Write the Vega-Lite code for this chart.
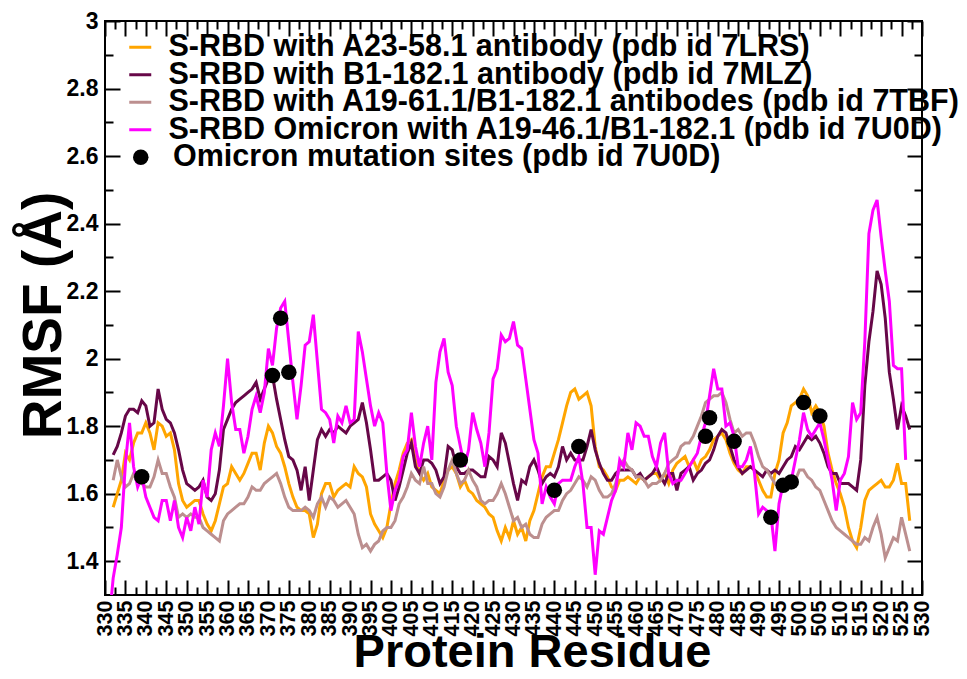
{
  "$schema": "https://vega.github.io/schema/vega-lite/v6.json",
  "width": 817,
  "height": 574,
  "autosize": {"type": "none"},
  "padding": {"left": 105, "top": 21, "right": 45, "bottom": 84},
  "background": "white",
  "config": {
    "view": {"stroke": "black", "strokeWidth": 2},
    "font": "Liberation Sans",
    "axis": {"domain": false, "grid": false, "tickColor": "black", "tickWidth": 2, "labelColor": "black", "labelFont": "Liberation Sans", "labelFontWeight": "bold", "titleFont": "Liberation Sans", "titleFontWeight": "bold", "titleColor": "black", "labelFlush": false, "labelOverlap": false, "labelBound": false},
    "legend": {"orient": "none", "title": null, "padding": 0, "labelFontSize": 30.5, "labelFont": "Liberation Sans", "labelFontWeight": "bold", "labelColor": "black", "labelLimit": 1000}
  },
  "datasets": {
    "rmsf": [
      {"res":331,"m":1.22},
      {"res":332,"o":1.56,"p":1.715,"b":1.64,"m":1.35},
      {"res":333,"o":1.60,"p":1.74,"b":1.70,"m":1.42},
      {"res":334,"o":1.64,"p":1.78,"b":1.65,"m":1.50},
      {"res":335,"o":1.72,"p":1.83,"b":1.62,"m":1.69},
      {"res":336,"o":1.70,"p":1.85,"b":1.63,"m":1.81},
      {"res":337,"o":1.75,"p":1.85,"b":1.66,"m":1.68},
      {"res":338,"o":1.78,"p":1.84,"b":1.63,"m":1.62},
      {"res":339,"o":1.78,"p":1.875,"b":1.63,"m":1.65},
      {"res":340,"o":1.81,"p":1.86,"b":1.62,"m":1.59},
      {"res":341,"o":1.78,"p":1.80,"b":1.62,"m":1.56},
      {"res":342,"o":1.73,"p":1.81,"b":1.65,"m":1.53},
      {"res":343,"o":1.81,"p":1.91,"b":1.70,"m":1.52},
      {"res":344,"o":1.80,"p":1.85,"b":1.66,"m":1.58},
      {"res":345,"o":1.77,"p":1.82,"b":1.66,"m":1.58},
      {"res":346,"o":1.78,"p":1.81,"b":1.62,"m":1.52},
      {"res":347,"o":1.73,"p":1.78,"b":1.59,"m":1.58},
      {"res":348,"o":1.63,"p":1.73,"b":1.53,"m":1.50},
      {"res":349,"o":1.58,"p":1.67,"b":1.54,"m":1.47},
      {"res":350,"o":1.56,"p":1.63,"b":1.53,"m":1.53},
      {"res":351,"o":1.57,"p":1.62,"b":1.54,"m":1.49},
      {"res":352,"o":1.58,"p":1.61,"b":1.53,"m":1.56},
      {"res":353,"o":1.58,"p":1.62,"b":1.53,"m":1.51},
      {"res":354,"o":1.54,"p":1.64,"b":1.50,"m":1.64},
      {"res":355,"o":1.51,"p":1.59,"b":1.49,"m":1.59},
      {"res":356,"o":1.49,"p":1.58,"b":1.48,"m":1.73},
      {"res":357,"o":1.52,"p":1.60,"b":1.47,"m":1.78},
      {"res":358,"o":1.57,"p":1.67,"b":1.46,"m":1.74},
      {"res":359,"o":1.62,"p":1.79,"b":1.52,"m":1.86},
      {"res":360,"o":1.63,"p":1.82,"b":1.54,"m":2.00},
      {"res":361,"o":1.68,"p":1.85,"b":1.55,"m":1.87},
      {"res":362,"o":1.66,"p":1.87,"b":1.56,"m":1.79},
      {"res":363,"o":1.64,"p":1.88,"b":1.57,"m":1.79},
      {"res":364,"o":1.66,"p":1.89,"b":1.57,"m":1.72},
      {"res":365,"o":1.69,"p":1.90,"b":1.59,"m":1.77},
      {"res":366,"o":1.72,"p":1.91,"b":1.62,"m":1.85},
      {"res":367,"o":1.72,"p":1.93,"b":1.61,"m":1.89},
      {"res":368,"o":1.67,"p":1.88,"b":1.61,"m":1.84},
      {"res":369,"o":1.75,"p":1.91,"b":1.63,"m":1.90},
      {"res":370,"o":1.80,"p":1.94,"b":1.64,"m":2.03},
      {"res":371,"o":1.78,"p":1.95,"b":1.65,"m":1.98},
      {"res":372,"o":1.74,"p":1.88,"b":1.66,"m":2.09},
      {"res":373,"o":1.72,"p":1.82,"b":1.63,"m":2.15},
      {"res":374,"o":1.68,"p":1.76,"b":1.59,"m":2.17},
      {"res":375,"o":1.63,"p":1.71,"b":1.56,"m":2.05},
      {"res":376,"o":1.59,"p":1.70,"b":1.55,"m":1.93},
      {"res":377,"o":1.56,"p":1.67,"b":1.55,"m":1.82},
      {"res":378,"o":1.55,"p":1.61,"b":1.55,"m":1.92},
      {"res":379,"o":1.55,"p":1.68,"b":1.56,"m":2.04},
      {"res":380,"o":1.54,"p":1.58,"b":1.55,"m":2.05},
      {"res":381,"o":1.47,"p":1.67,"b":1.53,"m":2.13},
      {"res":382,"o":1.51,"p":1.76,"b":1.57,"m":1.99},
      {"res":383,"o":1.60,"p":1.79,"b":1.59,"m":1.85},
      {"res":384,"o":1.63,"p":1.77,"b":1.56,"m":1.84},
      {"res":385,"o":1.63,"p":1.79,"b":1.59,"m":1.82},
      {"res":386,"o":1.59,"p":1.78,"b":1.58,"m":1.75},
      {"res":387,"o":1.61,"p":1.80,"b":1.56,"m":1.83},
      {"res":388,"o":1.62,"p":1.79,"b":1.57,"m":1.81},
      {"res":389,"o":1.63,"p":1.78,"b":1.58,"m":1.86},
      {"res":390,"o":1.62,"p":1.80,"b":1.56,"m":1.81},
      {"res":391,"o":1.68,"p":1.81,"b":1.54,"m":1.82},
      {"res":392,"o":1.66,"p":1.82,"b":1.48,"m":2.08},
      {"res":393,"o":1.65,"p":1.87,"b":1.44,"m":2.02},
      {"res":394,"o":1.62,"p":1.81,"b":1.45,"m":1.94},
      {"res":395,"o":1.54,"p":1.73,"b":1.43,"m":1.86},
      {"res":396,"o":1.51,"p":1.64,"b":1.45,"m":1.80},
      {"res":397,"o":1.49,"p":1.64,"b":1.46,"m":1.84},
      {"res":398,"o":1.47,"p":1.65,"b":1.49,"m":1.81},
      {"res":399,"o":1.50,"p":1.66,"b":1.50,"m":1.66},
      {"res":400,"o":1.57,"p":1.64,"b":1.50,"m":1.55},
      {"res":401,"o":1.63,"p":1.58,"b":1.52,"m":1.61},
      {"res":402,"o":1.67,"p":1.62,"b":1.57,"m":1.64},
      {"res":403,"o":1.72,"p":1.67,"b":1.59,"m":1.71},
      {"res":404,"o":1.75,"p":1.72,"b":1.62,"m":1.73},
      {"res":405,"o":1.76,"p":1.75,"b":1.66,"m":1.84},
      {"res":406,"o":1.70,"p":1.68,"b":1.64,"m":1.74},
      {"res":407,"o":1.66,"p":1.66,"b":1.63,"m":1.68},
      {"res":408,"o":1.64,"p":1.70,"b":1.68,"m":1.75},
      {"res":409,"o":1.66,"p":1.70,"b":1.63,"m":1.80},
      {"res":410,"o":1.62,"p":1.69,"b":1.63,"m":1.70},
      {"res":411,"o":1.61,"p":1.67,"b":1.60,"m":1.93},
      {"res":412,"o":1.60,"p":1.63,"b":1.59,"m":2.02},
      {"res":413,"o":1.64,"p":1.65,"b":1.62,"m":2.06},
      {"res":414,"o":1.67,"p":1.74,"b":1.67,"m":1.96},
      {"res":415,"o":1.68,"p":1.73,"b":1.70,"m":1.92},
      {"res":416,"o":1.66,"p":1.68,"b":1.66,"m":1.80},
      {"res":417,"o":1.62,"p":1.66,"b":1.63,"m":1.74},
      {"res":418,"o":1.64,"p":1.66,"b":1.64,"m":1.68},
      {"res":419,"o":1.61,"p":1.67,"b":1.67,"m":1.73},
      {"res":420,"o":1.60,"p":1.67,"b":1.64,"m":1.84},
      {"res":421,"o":1.58,"p":1.66,"b":1.62,"m":1.79},
      {"res":422,"o":1.57,"p":1.65,"b":1.58,"m":1.75},
      {"res":423,"o":1.56,"p":1.65,"b":1.57,"m":1.68},
      {"res":424,"o":1.54,"p":1.71,"b":1.58,"m":1.78},
      {"res":425,"o":1.53,"p":1.70,"b":1.58,"m":1.94},
      {"res":426,"o":1.49,"p":1.68,"b":1.60,"m":1.97},
      {"res":427,"o":1.46,"p":1.78,"b":1.63,"m":2.07},
      {"res":428,"o":1.50,"p":1.75,"b":1.60,"m":2.05},
      {"res":429,"o":1.47,"p":1.69,"b":1.56,"m":2.06},
      {"res":430,"o":1.52,"p":1.63,"b":1.52,"m":2.11},
      {"res":431,"o":1.48,"p":1.58,"b":1.53,"m":2.04},
      {"res":432,"o":1.50,"p":1.64,"b":1.50,"m":2.03},
      {"res":433,"o":1.46,"p":1.63,"b":1.51,"m":1.94},
      {"res":434,"o":1.52,"p":1.68,"b":1.48,"m":1.85},
      {"res":435,"o":1.55,"p":1.70,"b":1.47,"m":1.76},
      {"res":436,"o":1.60,"p":1.67,"b":1.47,"m":1.72},
      {"res":437,"o":1.65,"p":1.63,"b":1.51,"m":1.57},
      {"res":438,"o":1.68,"p":1.65,"b":1.53,"m":1.62},
      {"res":439,"o":1.68,"p":1.66,"b":1.54,"m":1.59},
      {"res":440,"o":1.72,"p":1.65,"b":1.55,"m":1.57},
      {"res":441,"o":1.76,"p":1.68,"b":1.55,"m":1.63},
      {"res":442,"o":1.81,"p":1.74,"b":1.58,"m":1.64},
      {"res":443,"o":1.86,"p":1.70,"b":1.60,"m":1.64},
      {"res":444,"o":1.90,"p":1.72,"b":1.61,"m":1.64},
      {"res":445,"o":1.91,"p":1.70,"b":1.63,"m":1.68},
      {"res":446,"o":1.88,"p":1.70,"b":1.65,"m":1.71},
      {"res":447,"o":1.89,"p":1.70,"b":1.64,"m":1.63},
      {"res":448,"o":1.90,"p":1.74,"b":1.62,"m":1.50},
      {"res":449,"o":1.86,"p":1.79,"b":1.65,"m":1.50},
      {"res":450,"o":1.74,"p":1.73,"b":1.64,"m":1.36},
      {"res":451,"o":1.68,"p":1.69,"b":1.61,"m":1.49},
      {"res":452,"o":1.67,"p":1.66,"b":1.59,"m":1.48},
      {"res":453,"o":1.65,"p":1.64,"b":1.59,"m":1.53},
      {"res":454,"o":1.62,"p":1.64,"b":1.60,"m":1.58},
      {"res":455,"o":1.61,"p":1.66,"b":1.63,"m":1.61},
      {"res":456,"o":1.64,"p":1.67,"b":1.68,"m":1.70},
      {"res":457,"o":1.64,"p":1.67,"b":1.70,"m":1.68},
      {"res":458,"o":1.65,"p":1.67,"b":1.68,"m":1.78},
      {"res":459,"o":1.64,"p":1.67,"b":1.67,"m":1.73},
      {"res":460,"o":1.63,"p":1.65,"b":1.65,"m":1.81},
      {"res":461,"o":1.65,"p":1.66,"b":1.65,"m":1.80},
      {"res":462,"o":1.64,"p":1.64,"b":1.64,"m":1.77},
      {"res":463,"o":1.65,"p":1.65,"b":1.62,"m":1.77},
      {"res":464,"o":1.66,"p":1.66,"b":1.63,"m":1.71},
      {"res":465,"o":1.66,"p":1.68,"b":1.63,"m":1.68},
      {"res":466,"o":1.64,"p":1.65,"b":1.64,"m":1.75},
      {"res":467,"o":1.66,"p":1.63,"b":1.66,"m":1.78},
      {"res":468,"o":1.63,"p":1.66,"b":1.69,"m":1.66},
      {"res":469,"o":1.67,"p":1.66,"b":1.70,"m":1.63},
      {"res":470,"o":1.69,"p":1.61,"b":1.71,"m":1.64},
      {"res":471,"o":1.70,"p":1.66,"b":1.74,"m":1.64},
      {"res":472,"o":1.71,"p":1.67,"b":1.75,"m":1.66},
      {"res":473,"o":1.68,"p":1.68,"b":1.75,"m":1.68},
      {"res":474,"o":1.70,"p":1.64,"b":1.77,"m":1.70},
      {"res":475,"o":1.67,"p":1.66,"b":1.80,"m":1.72},
      {"res":476,"o":1.70,"p":1.67,"b":1.83,"m":1.77},
      {"res":477,"o":1.71,"p":1.69,"b":1.87,"m":1.81},
      {"res":478,"o":1.73,"p":1.70,"b":1.88,"m":1.89},
      {"res":479,"o":1.76,"p":1.73,"b":1.89,"m":1.97},
      {"res":480,"o":1.77,"p":1.77,"b":1.89,"m":1.91},
      {"res":481,"o":1.78,"p":1.79,"b":1.90,"m":1.91},
      {"res":482,"o":1.76,"p":1.78,"b":1.87,"m":1.80},
      {"res":483,"o":1.72,"p":1.74,"b":1.82,"m":1.81},
      {"res":484,"o":1.69,"p":1.70,"b":1.78,"m":1.77},
      {"res":485,"o":1.67,"p":1.68,"b":1.79,"m":1.68},
      {"res":486,"o":1.66,"p":1.66,"b":1.77,"m":1.68},
      {"res":487,"o":1.68,"p":1.67,"b":1.78,"m":1.70},
      {"res":488,"o":1.68,"p":1.68,"b":1.78,"m":1.74},
      {"res":489,"o":1.67,"p":1.67,"b":1.75,"m":1.66},
      {"res":490,"o":1.64,"p":1.66,"b":1.71,"m":1.54},
      {"res":491,"o":1.61,"p":1.65,"b":1.68,"m":1.56},
      {"res":492,"o":1.59,"p":1.67,"b":1.67,"m":1.55},
      {"res":493,"o":1.59,"p":1.66,"b":1.65,"m":1.54},
      {"res":494,"o":1.66,"p":1.67,"b":1.63,"m":1.43},
      {"res":495,"o":1.70,"p":1.66,"b":1.62,"m":1.57},
      {"res":496,"o":1.78,"p":1.68,"b":1.61,"m":1.63},
      {"res":497,"o":1.81,"p":1.70,"b":1.62,"m":1.64},
      {"res":498,"o":1.86,"p":1.71,"b":1.63,"m":1.64},
      {"res":499,"o":1.87,"p":1.74,"b":1.64,"m":1.70},
      {"res":500,"o":1.88,"p":1.73,"b":1.67,"m":1.76},
      {"res":501,"o":1.91,"p":1.75,"b":1.67,"m":1.84},
      {"res":502,"o":1.89,"p":1.77,"b":1.65,"m":1.79},
      {"res":503,"o":1.84,"p":1.76,"b":1.64,"m":1.77},
      {"res":504,"o":1.86,"p":1.77,"b":1.62,"m":1.79},
      {"res":505,"o":1.84,"p":1.75,"b":1.61,"m":1.81},
      {"res":506,"o":1.80,"p":1.72,"b":1.58,"m":1.76},
      {"res":507,"o":1.72,"p":1.68,"b":1.55,"m":1.70},
      {"res":508,"o":1.67,"p":1.66,"b":1.52,"m":1.64},
      {"res":509,"o":1.63,"p":1.66,"b":1.50,"m":1.55},
      {"res":510,"o":1.60,"p":1.63,"b":1.49,"m":1.64},
      {"res":511,"o":1.56,"p":1.63,"b":1.48,"m":1.66},
      {"res":512,"o":1.50,"p":1.63,"b":1.47,"m":1.71},
      {"res":513,"o":1.46,"p":1.62,"b":1.46,"m":1.87},
      {"res":514,"o":1.44,"p":1.61,"b":1.45,"m":1.82},
      {"res":515,"o":1.50,"p":1.70,"b":1.45,"m":1.84},
      {"res":516,"o":1.58,"p":1.92,"b":1.47,"m":2.05},
      {"res":517,"o":1.61,"p":2.05,"b":1.46,"m":2.37},
      {"res":518,"o":1.62,"p":2.14,"b":1.50,"m":2.44},
      {"res":519,"o":1.63,"p":2.26,"b":1.53,"m":2.47},
      {"res":520,"o":1.64,"p":2.22,"b":1.48,"m":2.36},
      {"res":521,"o":1.62,"p":2.12,"b":1.41,"m":2.26},
      {"res":522,"o":1.62,"p":1.96,"b":1.44,"m":2.17},
      {"res":523,"o":1.64,"p":1.88,"b":1.47,"m":1.98},
      {"res":524,"o":1.69,"p":1.79,"b":1.46,"m":1.97},
      {"res":525,"o":1.63,"p":1.86,"b":1.53,"m":1.97},
      {"res":526,"o":1.63,"p":1.83,"b":1.48,"m":1.70},
      {"res":527,"o":1.52,"p":1.79,"b":1.43}
    ],
    "dots": [
      {"res":339,"rmsf":1.65},
      {"res":371,"rmsf":1.95},
      {"res":373,"rmsf":2.12},
      {"res":375,"rmsf":1.96},
      {"res":417,"rmsf":1.70},
      {"res":440,"rmsf":1.61},
      {"res":446,"rmsf":1.74},
      {"res":477,"rmsf":1.77},
      {"res":478,"rmsf":1.825},
      {"res":484,"rmsf":1.755},
      {"res":493,"rmsf":1.53},
      {"res":496,"rmsf":1.625},
      {"res":498,"rmsf":1.635},
      {"res":501,"rmsf":1.87},
      {"res":505,"rmsf":1.83}
    ]
  },
  "resolve": {"axis": {"x": "independent", "y": "independent"}, "scale": {"color": "independent"}},
  "layer": [
    {
      "data": {"name": "rmsf"},
      "mark": {"type": "line", "strokeWidth": 3, "clip": true},
      "encoding": {
        "x": {"field": "res", "type": "quantitative", "scale": {"domain": [330, 530], "nice": false, "zero": false},
          "axis": {"orient": "bottom", "values": [330,335,340,345,350,355,360,365,370,375,380,385,390,395,400,405,410,415,420,425,430,435,440,445,450,455,460,465,470,475,480,485,490,495,500,505,510,515,520,525,530], "tickSize": -15, "labelPadding": 20, "labelAngle": 270, "labelFontSize": 21.5, "format": "d", "title": "Protein Residue", "titleFontSize": 47, "titlePadding": -6, "titleX": 427}},
        "y": {"field": "o", "type": "quantitative", "scale": {"domain": [1.3, 3], "nice": false, "zero": false},
          "axis": {"orient": "left", "values": [1.4,1.6,1.8,2,2.2,2.4,2.6,2.8,3], "tickSize": -15, "labelPadding": 22, "labelFontSize": 23, "format": "~g", "title": "RMSF (Å)", "titleFontSize": 55, "titlePadding": -6, "titleY": 294}},
        "color": {"datum": "S-RBD with A23-58.1 antibody (pdb id 7LRS)",
          "scale": {"domain": ["S-RBD with A23-58.1 antibody (pdb id 7LRS)"], "range": ["#FFA500"]},
          "legend": {"legendX": 20, "legendY": 11, "symbolType": "stroke", "symbolStrokeWidth": 3, "symbolSize": 484, "labelOffset": 13}}
      }
    },
    {
      "data": {"name": "rmsf"},
      "mark": {"type": "line", "strokeWidth": 3, "clip": true},
      "encoding": {
        "x": {"field": "res", "type": "quantitative", "scale": {"domain": [330, 530], "nice": false, "zero": false},
          "axis": {"orient": "bottom", "values": [332.5,337.5,342.5,347.5,352.5,357.5,362.5,367.5,372.5,377.5,382.5,387.5,392.5,397.5,402.5,407.5,412.5,417.5,422.5,427.5,432.5,437.5,442.5,447.5,452.5,457.5,462.5,467.5,472.5,477.5,482.5,487.5,492.5,497.5,502.5,507.5,512.5,517.5,522.5,527.5], "tickSize": -8, "labels": false, "title": null}},
        "y": {"field": "p", "type": "quantitative", "scale": {"domain": [1.3, 3], "nice": false, "zero": false},
          "axis": {"orient": "left", "values": [1.5,1.7,1.9,2.1,2.3,2.5,2.7,2.9], "tickSize": -8, "labels": false, "title": null}},
        "color": {"datum": "S-RBD with B1-182.1 antibody (pdb id 7MLZ)",
          "scale": {"domain": ["S-RBD with B1-182.1 antibody (pdb id 7MLZ)"], "range": ["#670748"]},
          "legend": {"legendX": 20, "legendY": 38.5, "symbolType": "stroke", "symbolStrokeWidth": 3, "symbolSize": 484, "labelOffset": 13}}
      }
    },
    {
      "data": {"name": "rmsf"},
      "mark": {"type": "line", "strokeWidth": 3, "clip": true},
      "encoding": {
        "x": {"field": "res", "type": "quantitative", "scale": {"domain": [330, 530], "nice": false, "zero": false},
          "axis": {"orient": "top", "values": [330,335,340,345,350,355,360,365,370,375,380,385,390,395,400,405,410,415,420,425,430,435,440,445,450,455,460,465,470,475,480,485,490,495,500,505,510,515,520,525,530], "tickSize": -15, "labels": false, "title": null}},
        "y": {"field": "b", "type": "quantitative", "scale": {"domain": [1.3, 3], "nice": false, "zero": false},
          "axis": {"orient": "right", "values": [1.4,1.6,1.8,2,2.2,2.4,2.6,2.8,3], "tickSize": -15, "labels": false, "title": null}},
        "color": {"datum": "S-RBD with A19-61.1/B1-182.1 antibodes (pdb id 7TBF)",
          "scale": {"domain": ["S-RBD with A19-61.1/B1-182.1 antibodes (pdb id 7TBF)"], "range": ["#BC8F8F"]},
          "legend": {"legendX": 20, "legendY": 66, "symbolType": "stroke", "symbolStrokeWidth": 3, "symbolSize": 484, "labelOffset": 13}}
      }
    },
    {
      "data": {"name": "rmsf"},
      "mark": {"type": "line", "strokeWidth": 3, "clip": true},
      "encoding": {
        "x": {"field": "res", "type": "quantitative", "scale": {"domain": [330, 530], "nice": false, "zero": false},
          "axis": {"orient": "top", "values": [332.5,337.5,342.5,347.5,352.5,357.5,362.5,367.5,372.5,377.5,382.5,387.5,392.5,397.5,402.5,407.5,412.5,417.5,422.5,427.5,432.5,437.5,442.5,447.5,452.5,457.5,462.5,467.5,472.5,477.5,482.5,487.5,492.5,497.5,502.5,507.5,512.5,517.5,522.5,527.5], "tickSize": -8, "labels": false, "title": null}},
        "y": {"field": "m", "type": "quantitative", "scale": {"domain": [1.3, 3], "nice": false, "zero": false},
          "axis": {"orient": "right", "values": [1.5,1.7,1.9,2.1,2.3,2.5,2.7,2.9], "tickSize": -8, "labels": false, "title": null}},
        "color": {"datum": "S-RBD Omicron with A19-46.1/B1-182.1 (pdb id 7U0D)",
          "scale": {"domain": ["S-RBD Omicron with A19-46.1/B1-182.1 (pdb id 7U0D)"], "range": ["#FF00FF"]},
          "legend": {"legendX": 20, "legendY": 93.5, "symbolType": "stroke", "symbolStrokeWidth": 3, "symbolSize": 484, "labelOffset": 13}}
      }
    },
    {
      "data": {"name": "dots"},
      "mark": {"type": "point", "filled": true, "color": "black", "opacity": 1, "size": 240, "clip": true},
      "encoding": {
        "x": {"field": "res", "type": "quantitative", "scale": {"domain": [330, 530], "nice": false, "zero": false}, "axis": null},
        "y": {"field": "rmsf", "type": "quantitative", "scale": {"domain": [1.3, 3], "nice": false, "zero": false}, "axis": null},
        "shape": {"datum": "Omicron mutation sites (pdb id 7U0D)", "scale": {"range": ["circle"]},
          "legend": {"legendX": 20.5, "legendY": 121, "symbolSize": 240, "symbolFillColor": "black", "symbolStrokeColor": "black", "labelOffset": 17}}
      }
    }
  ]
}
